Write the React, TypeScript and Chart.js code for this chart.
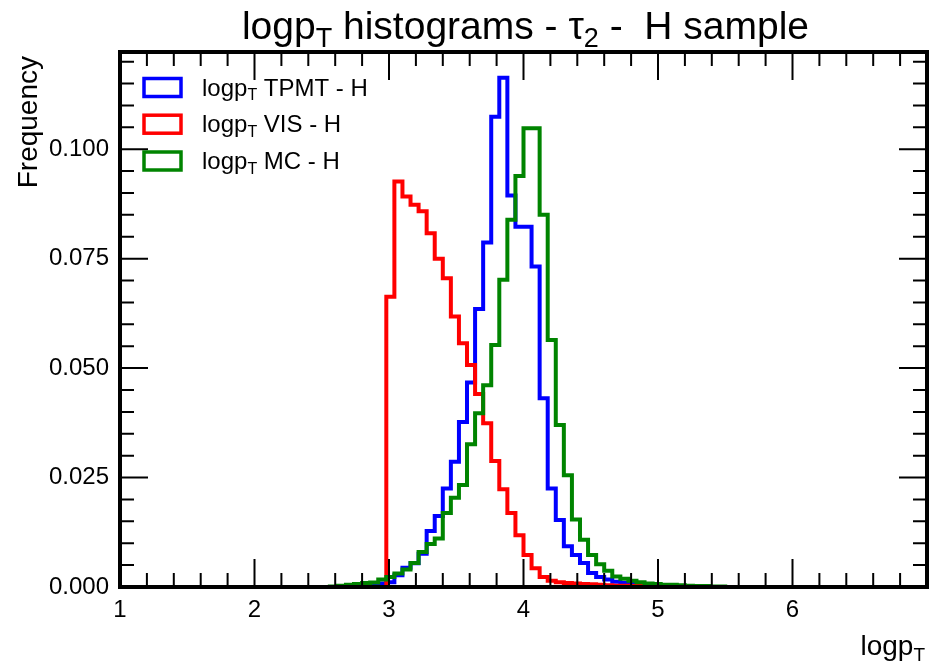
import React, { useEffect, useRef } from "react";
import { Chart, registerables } from "chart.js";

Chart.register(...registerables);

// Histogram binning: 100 bins from 1 to 7
const BIN_LOW = 1;
const BIN_WIDTH = 0.06;
const N_BINS = 100;
const FIRST_BIN = 26; // bin index of the first value in each array below

// Bin contents (normalised frequency) for bins 26..75
const tpmtValues = [
  0, 0, 0, 0.0001, 0.0002, 0.0004, 0.0008, 0.0011, 0.0027, 0.0044,
  0.0054, 0.0076, 0.0128, 0.0162, 0.0225, 0.0286, 0.0377, 0.0467, 0.0635, 0.0787,
  0.1074, 0.1163, 0.0894, 0.0823, 0.0823, 0.0732, 0.0431, 0.0225, 0.0153, 0.0093,
  0.0073, 0.0055, 0.0032, 0.0023, 0.0017, 0.0012, 0.0009, 0.0007, 0.0005, 0.0004,
  0.0003, 0.0002, 0.0002, 0.0001, 0.0001, 0, 0, 0, 0, 0,
];
const visValues = [
  0, 0, 0, 0, 0, 0, 0, 0.0663, 0.0926, 0.0892,
  0.0873, 0.0858, 0.0808, 0.075, 0.0705, 0.0618, 0.0557, 0.0507, 0.0441, 0.0374,
  0.0288, 0.0223, 0.0169, 0.0118, 0.0073, 0.0043, 0.0023, 0.0014, 0.0011, 0.0009,
  0.0008, 0.0007, 0.0006, 0.0005, 0.0004, 0.0003, 0.0003, 0.0002, 0.0002, 0.0001,
  0.0001, 0, 0, 0, 0, 0, 0, 0, 0, 0,
];
const mcValues = [
  0.0001, 0.0003, 0.0005, 0.0007, 0.0009, 0.001, 0.0017, 0.0023, 0.0031, 0.004,
  0.0055, 0.008, 0.0098, 0.0111, 0.0169, 0.0204, 0.0233, 0.0326, 0.0397, 0.0461,
  0.0553, 0.0702, 0.0839, 0.0939, 0.1048, 0.1048, 0.085, 0.0564, 0.037, 0.0255,
  0.0154, 0.0108, 0.0073, 0.0052, 0.0037, 0.0024, 0.0019, 0.0014, 0.0011, 0.0008,
  0.0007, 0.0005, 0.0005, 0.0004, 0.0003, 0.0002, 0.0002, 0.0001, 0.0001, 0,
];

const seriesNames = ["TPMT - H", "VIS - H", "MC - H"];
const seriesColors = ["#0000ff", "#ff0000", "#008400"];

const X_MIN = 1;
const X_MAX = 7;
const Y_MAX = 0.1222;
const xTickValues = [1, 2, 3, 4, 5, 6];

const FONT = "'Liberation Sans', Arial, Helvetica, sans-serif";

type Part = { t: string; sub?: boolean };

function histPoints(values: number[]) {
  const pts: { x: number; y: number }[] = [];
  for (let k = 0; k <= N_BINS; k++) {
    const idx = k - FIRST_BIN;
    const v = k < N_BINS && idx >= 0 && idx < values.length ? values[idx] : 0;
    pts.push({ x: BIN_LOW + k * BIN_WIDTH, y: v });
  }
  return pts;
}

function partFont(p: Part, size: number) {
  return `${p.sub ? Math.round(size * 0.68) : size}px ${FONT}`;
}

function richWidth(ctx: CanvasRenderingContext2D, parts: Part[], size: number) {
  let w = 0;
  for (const p of parts) {
    ctx.font = partFont(p, size);
    w += ctx.measureText(p.t).width;
  }
  return w;
}

function drawRich(
  ctx: CanvasRenderingContext2D,
  parts: Part[],
  x: number,
  y: number,
  size: number,
  align: "left" | "center" | "right"
) {
  const w = richWidth(ctx, parts, size);
  let cx = align === "center" ? x - w / 2 : align === "right" ? x - w : x;
  ctx.textAlign = "left";
  ctx.textBaseline = "alphabetic";
  for (const p of parts) {
    ctx.font = partFont(p, size);
    ctx.fillText(p.t, cx, p.sub ? y + size * 0.2 : y);
    cx += ctx.measureText(p.t).width;
  }
}

const framePlugin = {
  id: "rootFrame",
  afterDatasetsDraw(chart: any) {
    const { ctx, chartArea: a, scales } = chart;
    const xs = scales.x;
    const ys = scales.y;
    ctx.save();
    ctx.strokeStyle = "#000";
    // ticks
    ctx.lineWidth = 2;
    ctx.beginPath();
    for (let i = 0; i <= 30; i++) {
      const v = X_MIN + i * 0.2;
      const px = xs.getPixelForValue(v);
      const len = i % 5 === 0 ? 28 : 14;
      ctx.moveTo(px, a.bottom);
      ctx.lineTo(px, a.bottom - len);
      ctx.moveTo(px, a.top);
      ctx.lineTo(px, a.top + len);
    }
    for (let i = 0; i * 0.005 <= Y_MAX + 1e-9; i++) {
      const v = i * 0.005;
      const py = ys.getPixelForValue(v);
      const len = i % 5 === 0 ? 28 : 14;
      ctx.moveTo(a.left, py);
      ctx.lineTo(a.left + len, py);
      ctx.moveTo(a.right, py);
      ctx.lineTo(a.right - len, py);
    }
    ctx.stroke();
    // frame
    ctx.lineWidth = 4;
    ctx.strokeRect(a.left, a.top, a.right - a.left, a.bottom - a.top);
    ctx.restore();
  },
  afterDraw(chart: any) {
    const { ctx, chartArea: a } = chart;
    ctx.save();
    ctx.fillStyle = "#000";
    // Title
    drawRich(
      ctx,
      [
        { t: "logp" },
        { t: "T", sub: true },
        { t: " histograms - " },
        { t: "\u03c4" },
        { t: "2", sub: true },
        { t: " -  H sample" },
      ],
      (a.left + a.right) / 2 + 2,
      39,
      39,
      "center"
    );
    // X axis title
    drawRich(ctx, [{ t: "logp" }, { t: "T", sub: true }], a.right - 2, 655, 28, "right");
    // Y axis title
    ctx.save();
    ctx.translate(37, 56);
    ctx.rotate(-Math.PI / 2);
    ctx.font = `28px ${FONT}`;
    ctx.textAlign = "right";
    ctx.textBaseline = "alphabetic";
    ctx.fillText("Frequency", 0, 0);
    ctx.restore();
    // Legend
    const rowY = [87.5, 124.2, 161];
    for (let i = 0; i < seriesNames.length; i++) {
      ctx.strokeStyle = seriesColors[i];
      ctx.lineWidth = 3.5;
      ctx.strokeRect(144, rowY[i] - 9, 37, 18);
      ctx.fillStyle = "#000";
      drawRich(ctx, [{ t: "logp" }, { t: "T", sub: true }, { t: " " + seriesNames[i] }], 202, rowY[i] + 8, 24, "left");
    }
    ctx.restore();
  },
};

export default function App() {
  const ref = useRef<HTMLCanvasElement | null>(null);
  useEffect(() => {
    document.body.style.margin = "0";
    const canvas = ref.current;
    if (!canvas) return;
    const datasets = [tpmtValues, visValues, mcValues].map((vals, i) => ({
      label: "logpT " + seriesNames[i],
      data: histPoints(vals),
      borderColor: seriesColors[i],
      backgroundColor: seriesColors[i],
      borderWidth: 4,
      pointRadius: 0,
      stepped: "before" as const,
      fill: false,
      tension: 0,
      order: 2 - i,
    }));
    const chart = new Chart(canvas, {
      type: "line",
      data: { datasets },
      options: {
        responsive: false,
        animation: false,
        devicePixelRatio: 1,
        layout: { padding: { top: 52, left: 0, right: 3, bottom: 0 } },
        plugins: { legend: { display: false }, title: { display: false }, tooltip: { enabled: false } },
        scales: {
          x: {
            type: "linear",
            min: X_MIN,
            max: X_MAX,
            afterFit: (s: any) => {
              s.height = 76;
            },
            afterBuildTicks: (s: any) => {
              s.ticks = xTickValues.map((v) => ({ value: v }));
            },
            ticks: {
              color: "#000",
              font: { family: FONT, size: 24 },
              padding: 9,
              maxRotation: 0,
              autoSkip: false,
            },
            grid: { display: false, drawTicks: false },
            border: { display: false },
          },
          y: {
            type: "linear",
            min: 0,
            max: Y_MAX,
            afterFit: (s: any) => {
              s.width = 120;
            },
            ticks: {
              stepSize: 0.025,
              includeBounds: false,
              color: "#000",
              font: { family: FONT, size: 24 },
              padding: 11,
              callback: (v: any) => Number(v).toFixed(3),
            },
            grid: { display: false, drawTicks: false },
            border: { display: false },
          },
        },
      },
      plugins: [framePlugin],
    });
    return () => chart.destroy();
  }, []);
  return (
    <canvas
      ref={ref}
      width={930}
      height={663}
      style={{ display: "block", width: 930, height: 663 }}
    />
  );
}
